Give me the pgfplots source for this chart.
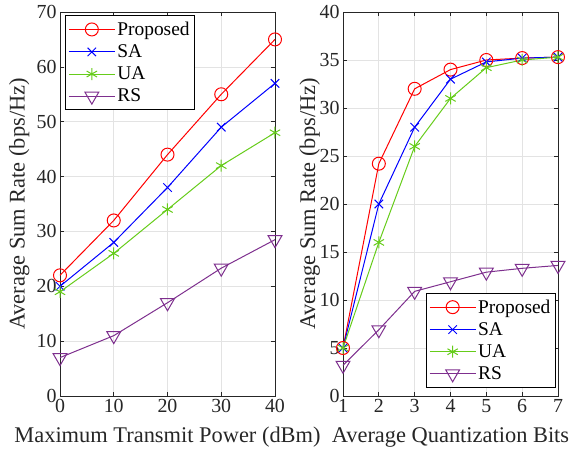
\documentclass[border=0pt]{standalone}
\usepackage{pgfplots}
\pgfplotsset{compat=1.18}
\usepackage{fontspec}
\setmainfont{Liberation Serif}
\definecolor{cgreen}{RGB}{102,204,26}
\definecolor{cpurple}{RGB}{126,47,142}
\definecolor{axgray}{RGB}{38,38,38}

\pgfplotsset{
  mstyle/.style={
    width=215bp, height=384bp, scale only axis, clip=false,
    axis line style={axgray, line width=0.7bp},
    tick style={axgray, line width=0.7bp},
    major tick length=4bp,
    grid=major, grid style={gray!22, line width=0.7bp},
    ticklabel style={font=\fontsize{20}{22}\selectfont, text=axgray},
    label style={font=\fontsize{22.5}{25}\selectfont, text=axgray},
    xlabel style={at={(axis description cs:0.5,0)}, anchor=center, yshift=-41bp},
    /pgf/number format/assume math mode=true,
    legend style={font=\fontsize{19.5}{22}\selectfont, draw=black, line width=0.8bp,
      inner xsep=3bp, inner ysep=4.5bp, row sep=3.8bp},
    legend cell align=left,
  },
  lg/.style={legend image code/.code={\draw[mark repeat=2,mark phase=2]
      plot coordinates {(0bp,0bp)(23bp,0bp)(46bp,0bp)};}},
  pprop/.style={lg, red, line width=1bp, mark=o, mark size=6.5bp, mark options={solid}},
  psa/.style={lg, blue, line width=1bp, mark=x, mark size=6bp, mark options={solid}},
  pua/.style={lg, cgreen, line width=1bp, mark=asterisk, mark size=6bp, mark options={solid}},
  prs/.style={lg, cpurple, line width=1bp, mark=triangle, mark size=8bp, mark options={solid, rotate=180}},
}

\begin{document}
\begin{tikzpicture}
\begin{axis}[mstyle,
  xmin=0, xmax=40, ymin=0, ymax=70,
  xtick={0,10,20,30,40}, ytick={0,10,...,70},
  xlabel={Maximum Transmit Power (dBm)},
  ylabel={Average Sum Rate (bps/Hz)},
  ylabel style={at={(axis description cs:-0.19,0.5)}, anchor=center},
  legend style={at={(axis description cs:0.023,0.992)}, anchor=north west},
]
\addplot[pprop] coordinates {(0,22) (10,32) (20,44) (30,55) (40,65)};
\addplot[psa] coordinates {(0,20) (10,28) (20,38) (30,49) (40,57)};
\addplot[pua] coordinates {(0,19) (10,26) (20,34) (30,42) (40,48)};
\addplot[prs] coordinates {(0,7) (10,11) (20,17) (30,23.3) (40,28.5)};
\legend{Proposed, SA, UA, RS}
\end{axis}

\begin{axis}[mstyle, xshift=283bp,
  xmin=1, xmax=7, ymin=0, ymax=40,
  xtick={1,...,7}, ytick={0,5,...,40},
  xlabel={Average Quantization Bits},
  ylabel={Average Sum Rate (bps/Hz)},
  ylabel style={at={(axis description cs:-0.155,0.5)}, anchor=center},
  legend style={at={(axis description cs:0.99,0.021)}, anchor=south east},
]
\addplot[pprop] coordinates {(1,5) (2,24.2) (3,32) (4,34) (5,35) (6,35.2) (7,35.3)};
\addplot[psa] coordinates {(1,5) (2,20) (3,28) (4,33) (5,34.8) (6,35.2) (7,35.3)};
\addplot[pua] coordinates {(1,5) (2,16) (3,26) (4,31) (5,34.2) (6,35) (7,35.3)};
\addplot[prs] coordinates {(1,3.2) (2,6.9) (3,10.9) (4,11.9) (5,12.9) (6,13.3) (7,13.6)};
\legend{Proposed, SA, UA, RS}
\end{axis}
\pgfresetboundingbox
\path[use as bounding box] (-60bp,-57bp) rectangle (509bp,396bp);
\end{tikzpicture}
\end{document}
